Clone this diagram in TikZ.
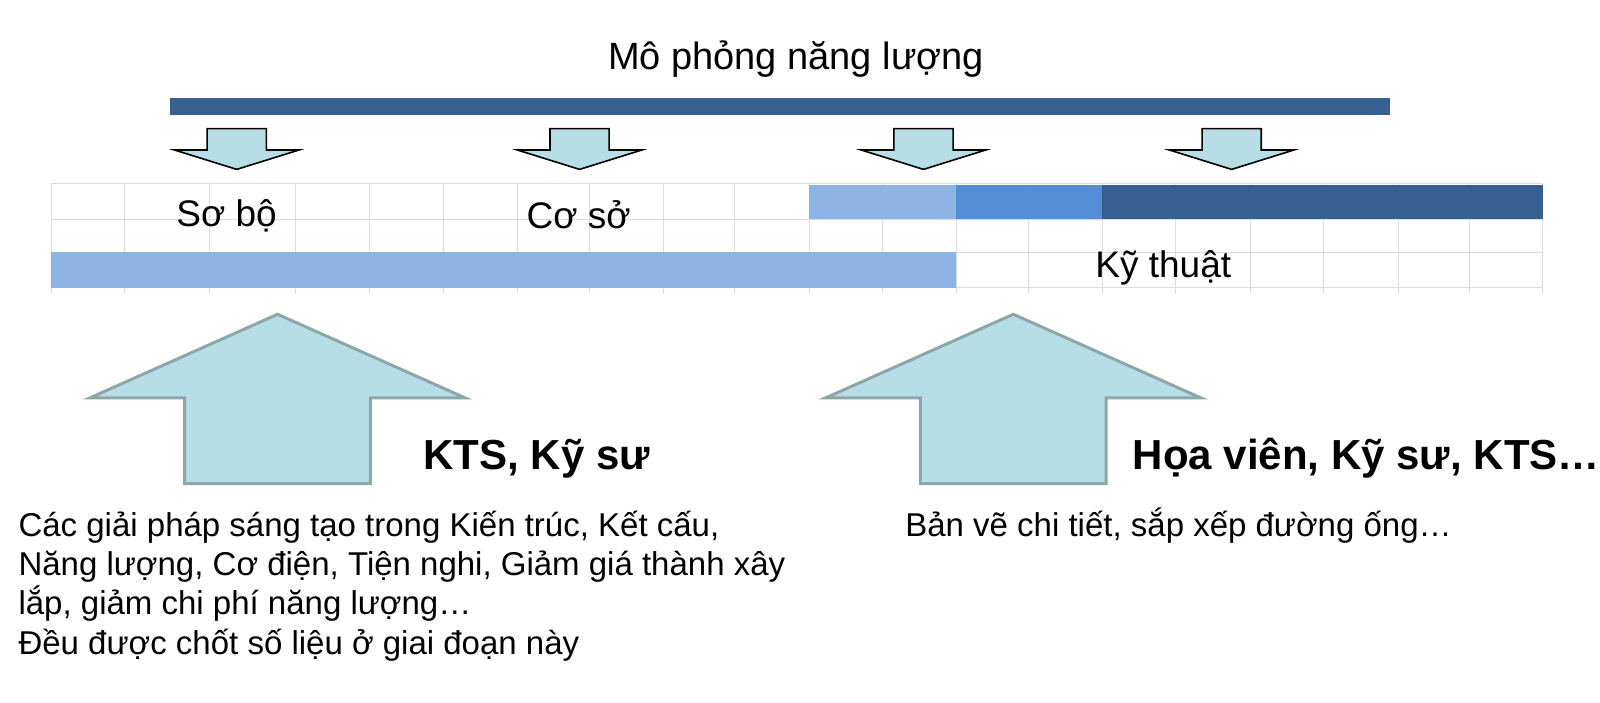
\documentclass[tikz,border=0pt]{standalone}
\usepackage{fontspec}
\setmainfont{Liberation Sans}
\definecolor{bardark}{RGB}{54,96,146}
\definecolor{barmid}{RGB}{85,142,213}
\definecolor{barlight}{RGB}{142,180,227}
\definecolor{arrowfill}{RGB}{183,222,230}
\definecolor{arrowedge}{RGB}{140,166,170}
\definecolor{gridgray}{RGB}{220,220,220}

\begin{document}
\begin{tikzpicture}[x=1.0204pt, y=-1.0204pt,
    smallarrow/.style={draw=black, line width=1.6pt, fill=arrowfill},
    bigarrow/.style={draw=arrowedge, line width=3pt, fill=arrowfill},
    gridline/.style={draw=gridgray, line width=0.9pt},
    lbl/.style={font=\fontsize{37}{44}\selectfont, anchor=base, inner sep=0pt},
    body/.style={font=\fontsize{33}{39}\selectfont, anchor=base west, inner sep=0pt},
    who/.style={font=\fontsize{42}{50}\selectfont\bfseries, anchor=base west, inner sep=0pt}]
    \useasboundingbox (0,0) rectangle (1568,688);

    % title and its bar
    \node[font=\fontsize{38}{46}\selectfont, anchor=base, inner sep=0pt] (title) at (780,68) {Mô phỏng năng lượng};
    \fill[bardark] (167,96) rectangle (1362,113);
    \foreach \c in {232,568,905,1207}
        \draw[smallarrow] (\c-29,126) -- (\c+29,126) -- (\c+29,147) -- (\c+61,147)
            -- (\c,166) -- (\c-61,147) -- (\c-29,147) -- cycle;

    % grid
    \foreach \x in {50,122,205,290,362,435,507,578,650,720,793,865,937,1008,1080,1152,1225,1297,1370,1440,1512}
        \draw[gridline] (\x,180) -- (\x,288);
    \foreach \y in {180,215,247,282}
        \draw[gridline] (50,\y) -- (1512,\y);
    \fill[barlight] (793,181) rectangle (937,215);
    \fill[barmid] (937,181) rectangle (1080,215);
    \fill[bardark] (1080,181) rectangle (1512,215);
    \fill[barlight] (50,247) rectangle (937,282);

    \node[lbl] (sobo) at (222,222) {Sơ bộ};
    \node[lbl] (coso) at (567,224) {Cơ sở};
    \node[lbl] (kythuat) at (1140,272) {Kỹ thuật};

    % big arrows
    \foreach \c in {272,993}
        \draw[bigarrow] (\c,308) -- (\c+184,390) -- (\c+91,390) -- (\c+91,474)
            -- (\c-91,474) -- (\c-91,390) -- (\c-184,390) -- cycle;

    \node[who] (kts) at (415,460) {KTS, Kỹ sư};
    \node[who] (hoavien) at (1110,460) {Họa viên, Kỹ sư, KTS…};

    \node[body] (body1) at (18,526) {Các giải pháp sáng tạo trong Kiến trúc, Kết cấu,};
    \node[body] (body2) at (18,564) {Năng lượng, Cơ điện, Tiện nghi, Giảm giá thành xây};
    \node[body] (body3) at (18,602) {lắp, giảm chi phí năng lượng…};
    \node[body] (body4) at (18,641) {Đều được chốt số liệu ở giai đoạn này};
    \node[body] (banve) at (887,526) {Bản vẽ chi tiết, sắp xếp đường ống…};
\end{tikzpicture}
\end{document}
